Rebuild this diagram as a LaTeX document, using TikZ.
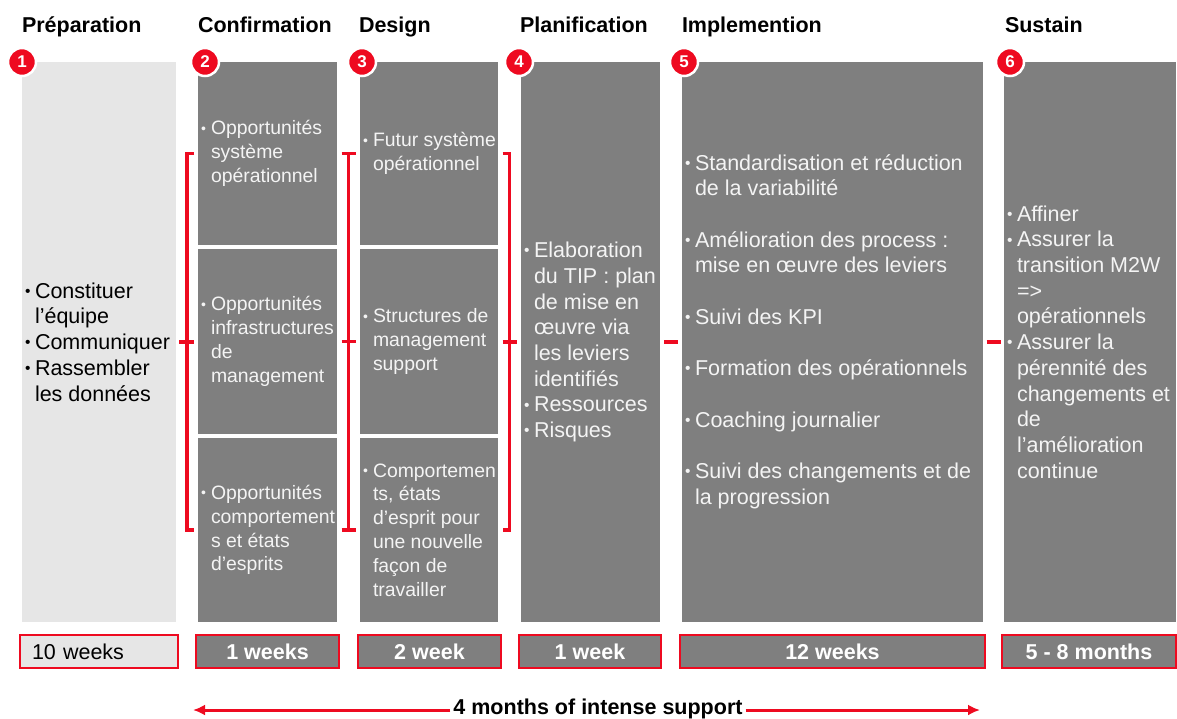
\documentclass[tikz,border=0pt]{standalone}
\usepackage{fontspec}
\setmainfont{Liberation Sans}
\usetikzlibrary{arrows.meta,calc}

\definecolor{rdred}{RGB}{238,10,32}
\definecolor{dkgray}{RGB}{127,127,127}
\definecolor{ltgray}{RGB}{230,230,230}
\definecolor{offwhite}{RGB}{244,244,244}

\newcommand{\bl}{\makebox[10pt][l]{\raisebox{0.15ex}{\scalebox{0.72}{•}}}}
\newcommand{\ind}{\hspace*{10pt}}
\newcommand{\bigtxt}{\fontsize{21.5}{25.7}\selectfont}
\newcommand{\smltxt}{\fontsize{19.4}{23.8}\selectfont}

\begin{document}
\begin{tikzpicture}
  [x=1pt,y=-1pt,every node/.style={inner sep=0pt,outer sep=0pt},
   sz/.style 2 args={minimum width=#1pt,minimum height=#2pt},
   phase/.style={anchor=north west,fill=dkgray},
   ptext/.style={anchor=west,align=left,inner xsep=3pt,text=offwhite,font=\bigtxt},
   title/.style={anchor=base west,font=\bigtxt\bfseries},
   num/.style={circle,fill=rdred,draw=white,line width=2.5pt,minimum size=28pt,text=white,font=\fontsize{17}{17}\selectfont\bfseries},
   dur/.style={anchor=north west,fill=dkgray,draw=rdred,line width=1.2pt,minimum height=33pt,text=white,font=\bigtxt\bfseries},
   brk/.style={draw=rdred,line width=3.5pt},
   span/.style={draw=rdred,line width=3pt,-{Latex[length=12pt,width=11pt]}}]
  \useasboundingbox (0,0) rectangle (1177,718);

  % titles
  \node[title] (t1) at (22,32) {Préparation};
  \node[title] (t2) at (198,32) {Confirmation};
  \node[title] (t3) at (359,32) {Design};
  \node[title] (t4) at (520,32) {Planification};
  \node[title] (t5) at (682,32) {Implemention};
  \node[title] (t6) at (1005,32) {Sustain};

  % phase boxes
  \node[phase,fill=ltgray,sz={154}{560}] (prep) at (22,62) {};
  \node[phase,sz={139}{183}] (c1) at (198,62) {};
  \node[phase,sz={139}{185}] (c2) at (198,249) {};
  \node[phase,sz={139}{184}] (c3) at (198,438) {};
  \node[phase,sz={138}{183}] (d1) at (360,62) {};
  \node[phase,sz={138}{185}] (d2) at (360,249) {};
  \node[phase,sz={138}{184}] (d3) at (360,438) {};
  \node[phase,sz={139}{560}] (plan) at (521,62) {};
  \node[phase,sz={301}{560}] (impl) at (682,62) {};
  \node[phase,sz={172}{560}] (sus) at (1004,62) {};

  % box texts
  \node[ptext,text=black] (prept) at (prep.west) {\bl Constituer\\\ind l’équipe\\\bl Communiquer\\\bl Rassembler\\\ind les données};
  \node[ptext,font=\smltxt] (c1t) at (c1.west) {\bl Opportunités\\\ind système\\\ind opérationnel};
  \node[ptext,font=\smltxt] (c2t) at (c2.west) {\bl Opportunités\\\ind infrastructures\\\ind de\\\ind management};
  \node[ptext,font=\smltxt] (c3t) at (c3.west) {\bl Opportunités\\\ind comportement\\\ind s et états\\\ind d’esprits};
  \node[ptext,font=\smltxt] (d1t) at (d1.west) {\bl Futur système\\\ind opérationnel};
  \node[ptext,font=\smltxt] (d2t) at (d2.west) {\bl Structures de\\\ind management\\\ind support};
  \node[ptext,font=\smltxt] (d3t) at (d3.west) {\bl Comportemen\\\ind ts, états\\\ind d’esprit pour\\\ind une nouvelle\\\ind façon de\\\ind travailler};
  \node[ptext] (plant) at (plan.west) {\bl Elaboration\\\ind du TIP : plan\\\ind de mise en\\\ind œuvre via\\\ind les leviers\\\ind identifiés\\\bl Ressources\\\bl Risques};
  \node[ptext] (implt) at (impl.west) {\bl Standardisation et réduction\\\ind de la variabilité\\[25.7pt]\bl Amélioration des process :\\\ind mise en œuvre des leviers\\[25.7pt]\bl Suivi des KPI\\[25.7pt]\bl Formation des opérationnels\\[25.7pt]\bl Coaching journalier\\[25.7pt]\bl Suivi des changements et de\\\ind la progression\\\mbox{}};
  \node[ptext] (sust) at (sus.west) {\bl Affiner\\\bl Assurer la\\\ind transition M2W\\\ind =>\\\ind opérationnels\\\bl Assurer la\\\ind pérennité des\\\ind changements et\\\ind de\\\ind l’amélioration\\\ind continue};

  % step numbers
  \node[num] (n1) at (22,62) {1};
  \node[num] (n2) at (205,62) {2};
  \node[num] (n3) at (362,62) {3};
  \node[num] (n4) at (519,62) {4};
  \node[num] (n5) at (684,62) {5};
  \node[num] (n6) at (1010,62) {6};

  % brackets and links
  \coordinate (ba) at ($(prep.east)!.5!(c2.west)$);
  \coordinate (bb) at ($(c2.east)!.5!(d2.west)$);
  \coordinate (bc) at ($(d2.east)!.5!(plan.west)$);
  \coordinate (bd) at ($(plan.east)!.5!(impl.west)$);
  \coordinate (be) at ($(impl.east)!.5!(sus.west)$);
  \draw[brk] (ba |- c1) ++(7,0) -- ++(-7,0) -- (ba |- c3) -- ++(7,0);
  \draw[brk] (ba) ++(-8,0) -- ++(15,0);
  \draw[brk] (bb |- c1) -- (bb |- c3);
  \draw[brk] (bb |- c1) ++(-7,0) -- ++(14,0);
  \draw[brk] (bb) ++(-7,0) -- ++(14,0);
  \draw[brk] (bb |- c3) ++(-7,0) -- ++(14,0);
  \draw[brk] (bc |- d1) ++(-7,0) -- ++(7,0) -- (bc |- d3) -- ++(-7,0);
  \draw[brk] (bc) ++(-7,0) -- ++(14,0);
  \draw[brk] (bd) ++(-7,0) -- ++(14,0);
  \draw[brk] (be) ++(-7,0) -- ++(14,0);

  % durations
  \node[dur,fill=ltgray,text=black,font=\bigtxt,sz={158}{33},align=left,text width=134pt,inner xsep=12pt] (w1) at (20,635) {10 weeks};
  \node[dur,sz={143}{33}] (w2) at (196,635) {1 weeks};
  \node[dur,sz={143}{33}] (w3) at (358,635) {2 week};
  \node[dur,sz={142}{33}] (w4) at (519,635) {1 week};
  \node[dur,sz={305}{33}] (w5) at (680,635) {12 weeks};
  \node[dur,sz={174}{33}] (w6) at (1002,635) {5 - 8 months};

  % support span
  \coordinate (al) at (193,710);
  \coordinate (ar) at (980,710);
  \node[anchor=base,inner xsep=3pt,font=\bigtxt\bfseries] (sup) at (598,714) {4 months of intense support};
  \draw[span] (sup.west |- al) -- (al);
  \draw[span] (sup.east |- ar) -- (ar);
\end{tikzpicture}
\end{document}
